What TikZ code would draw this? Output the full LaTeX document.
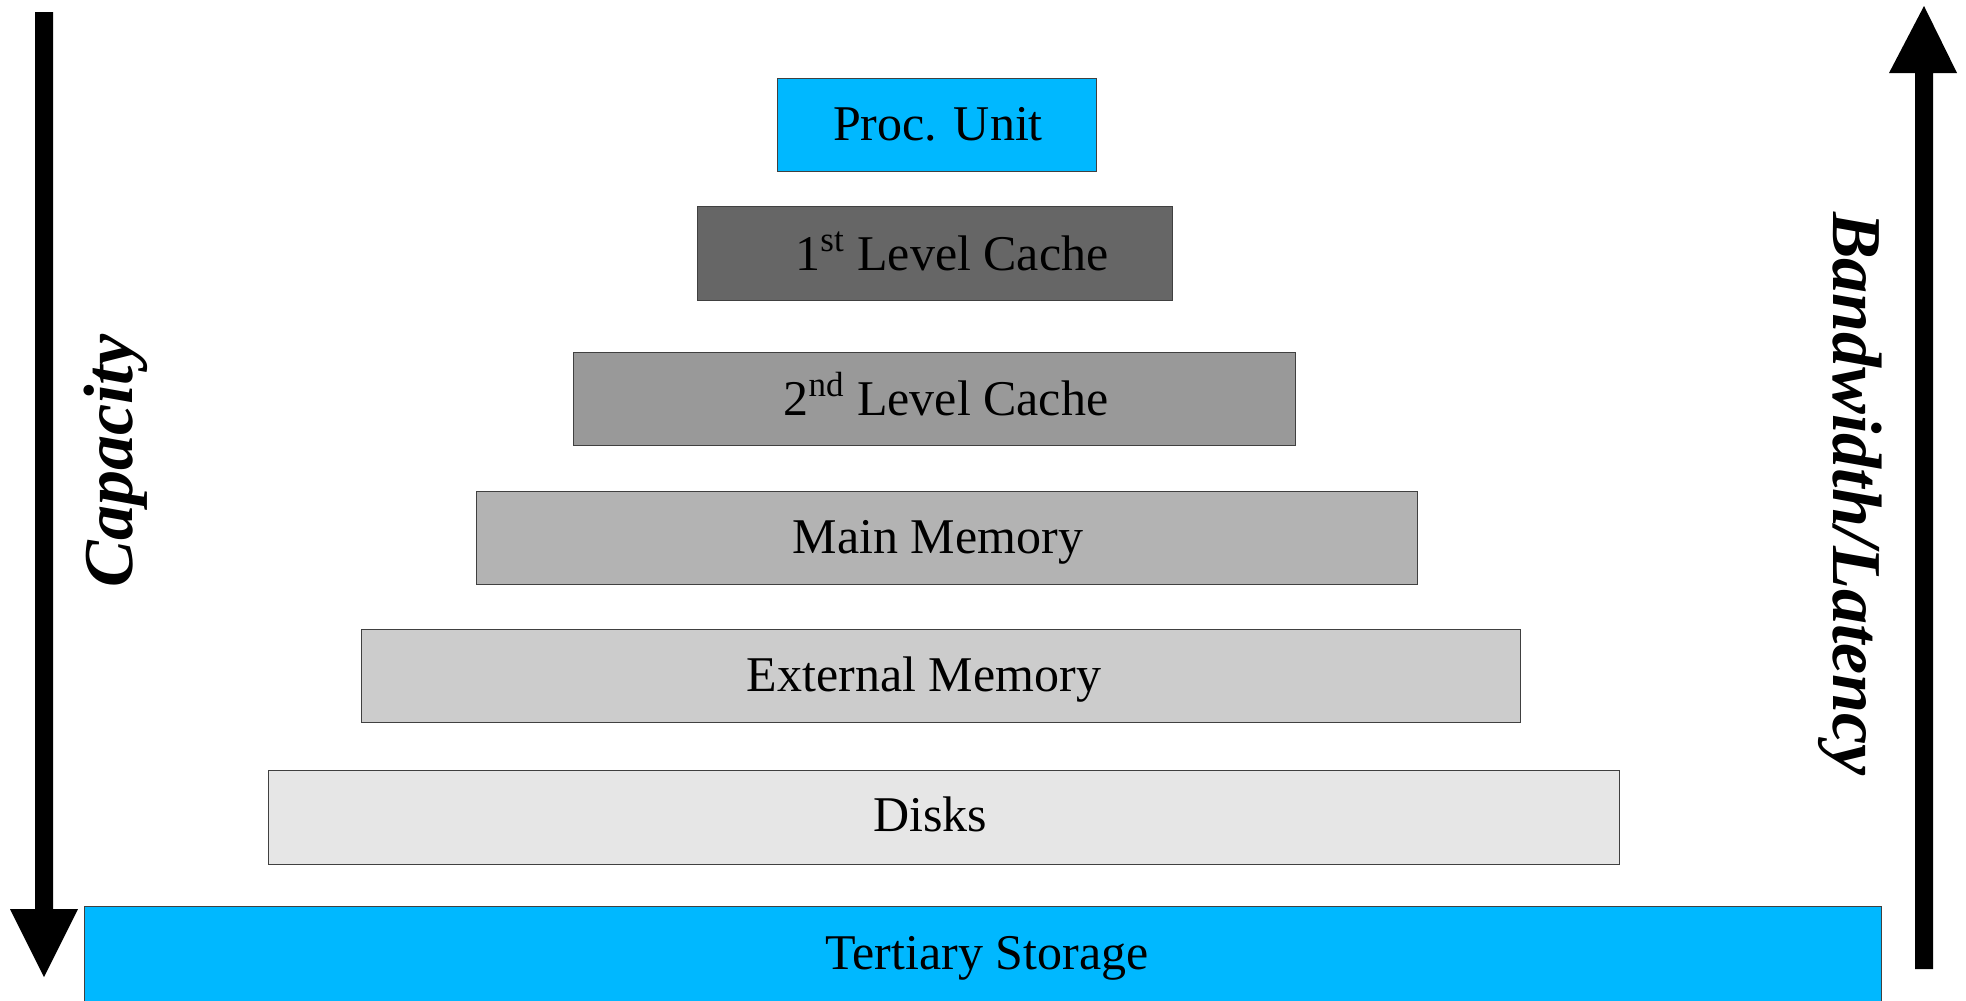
\documentclass[tikz,border=0pt]{standalone}
\usepackage{fontspec}
\setmainfont{Liberation Serif}
\definecolor{sky}{RGB}{0,184,255}
\definecolor{g1}{RGB}{102,102,102}
\definecolor{g2}{RGB}{153,153,153}
\definecolor{g3}{RGB}{179,179,179}
\definecolor{g4}{RGB}{204,204,204}
\definecolor{g5}{RGB}{230,230,230}
\begin{document}
\begin{tikzpicture}[x=0.5pt,y=-0.5pt,
  lvl/.style={draw=black!75,line width=0.5pt},
  lbl/.style={anchor=base,inner sep=0pt,font=\fontsize{25}{30}\selectfont},
  side/.style={inner sep=0pt,font=\fontsize{35}{42}\selectfont\bfseries\itshape},
  arr/.style={fill=black}]
\useasboundingbox (0,0) rectangle (1966,1001);
\fill[white] (0,0) rectangle (1966,1001);
% levels
\path[lvl,fill=sky] (777,78) rectangle (1096,171);
\node[lbl] (proc) at (938,140) {Proc. Unit};
\path[lvl,fill=g1] (697,206) rectangle (1172,300);
\node[lbl] (l1) at (952,270) {1\textsuperscript{st} Level Cache};
\path[lvl,fill=g2] (573,352) rectangle (1295,445);
\node[lbl] (l2) at (946,415) {2\textsuperscript{nd} Level Cache};
\path[lvl,fill=g3] (476,491) rectangle (1417,584);
\node[lbl] (mm) at (938,553) {Main Memory};
\path[lvl,fill=g4] (361,629) rectangle (1520,722);
\node[lbl] (em) at (924,691) {External Memory};
\path[lvl,fill=g5] (268,770) rectangle (1619,864);
\node[lbl] (dk) at (930,831) {Disks};
\path[lvl,fill=sky] (84,906) rectangle (1881,1004);
\node[lbl] (ts) at (987,969) {Tertiary Storage};
% arrows
\fill[arr] (35,12) -- (53,12) -- (53,909) -- (78,909) -- (44,977) -- (10,909) -- (35,909) -- cycle;
\fill[arr] (1915,969) -- (1933,969) -- (1933,73) -- (1957,73) -- (1924,6) -- (1889,73) -- (1915,73) -- cycle;
\node[side,rotate=90] (cap) at (116,461) {Capacity};
\node[side,rotate=-90] (bw) at (1850,494) {Bandwidth/Latency};
\end{tikzpicture}
\end{document}
